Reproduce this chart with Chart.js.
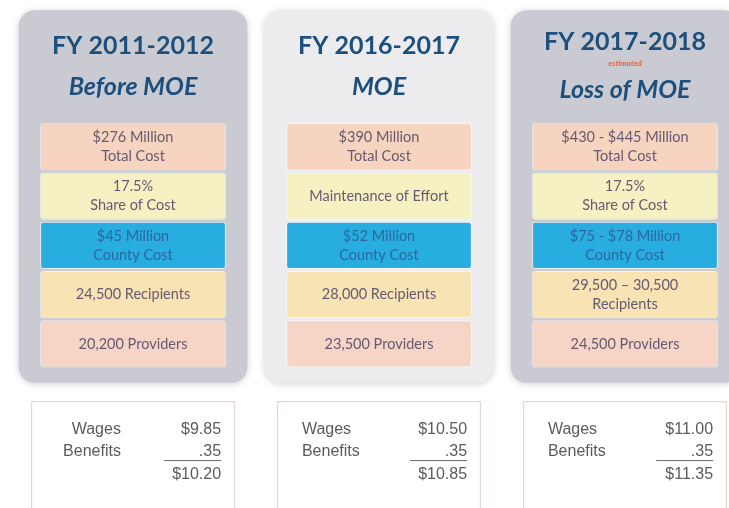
<!DOCTYPE html>
<html><head><meta charset="utf-8">
<script src="https://cdn.jsdelivr.net/npm/chart.js@4"></script>
<style>
html,body{margin:0;padding:0;background:#fff;overflow:hidden}
#wrap{position:relative;width:748px;height:508px}
</style></head>
<body><div id="wrap"><canvas id="c"></canvas></div>
<script>
// ---- data ----
const periods = ['FY 2011-2012', 'FY 2016-2017', 'FY 2017-2018'];
const phases = ['Before MOE', 'MOE', 'Loss of MOE'];
const phaseNotes = ['', '', 'estimated'];
const totalCost = [['$276 Million', 'Total Cost'], ['$390 Million', 'Total Cost'], ['$430 - $445 Million', 'Total Cost']];
const shareOfCost = [['17.5%', 'Share of Cost'], ['Maintenance of Effort'], ['17.5%', 'Share of Cost']];
const countyCost = [['$45 Million', 'County Cost'], ['$52 Million', 'County Cost'], ['$75 - $78 Million', 'County Cost']];
const recipients = [['24,500 Recipients'], ['28,000 Recipients'], ['29,500 \u2013 30,500', 'Recipients']];
const providers = [['20,200 Providers'], ['23,500 Providers'], ['24,500 Providers']];
const wages = ['$9.85', '$10.50', '$11.00'];
const benefits = ['.35', '.35', '.35'];
const hourlyTotal = ['$10.20', '$10.85', '$11.35'];

// ---- styling / layout ----
const ROWS = [totalCost, shareOfCost, countyCost, recipients, providers];
const ROW_COLORS = ['#f6d4bf', '#f6f1c3', '#28ade1', '#f8e3b5', '#f6d5c7'];
const PANEL_COLORS = ['#cacbd2', '#ececef', '#cacbd2'];
const PANEL_SPAN = [-2.27, 5.29];
const WAGE_SPAN = [5.66, 8.3];
const HEAD_COLOR = '#1d4f7d';
const TEXT_COLOR = '#665a72';
const BLUE_TEXT = '#2c679f';
const LABEL_ALIGN = ['right', 'left', 'left'];

const datasets = [];
ROWS.forEach((row, r) => {
  datasets.push({
    data: periods.map(() => [r + 0.02, r + 0.98]),
    backgroundColor: ROW_COLORS[r],
    borderColor: 'rgba(255,255,255,0.7)',
    borderWidth: 1,
    borderRadius: 3,
    borderSkipped: false,
    barPercentage: 0.755,
    categoryPercentage: 1,
    grouped: false,
    order: 1
  });
});
const WAGE_INDEX = datasets.length;
datasets.push({
  data: periods.map(() => WAGE_SPAN),
  backgroundColor: '#ffffff',
  borderColor: '#edd3ca',
  borderWidth: 1.5,
  borderSkipped: false,
  barPercentage: 0.83,
  categoryPercentage: 1,
  grouped: false,
  order: 2
});
const PANEL_INDEX = datasets.length;
datasets.push({
  data: periods.map(() => PANEL_SPAN),
  backgroundColor: PANEL_COLORS,
  borderRadius: 16,
  borderSkipped: false,
  barPercentage: 0.93,
  categoryPercentage: 1,
  grouped: false,
  order: 3
});

function box(el) {
  const top = Math.min(el.y, el.base), bottom = Math.max(el.y, el.base);
  return { left: el.x - el.width / 2, right: el.x + el.width / 2, top, bottom, cx: el.x, cy: (top + bottom) / 2 };
}

const shadowPlugin = {
  id: 'panelShadow',
  beforeDatasetDraw(chart, args) {
    if (args.index === PANEL_INDEX) {
      const ctx = chart.ctx;
      ctx.save();
      ctx.shadowColor = 'rgba(0,0,0,0.18)';
      ctx.shadowBlur = 7;
      ctx.shadowOffsetY = 1;
    }
  },
  afterDatasetDraw(chart, args) {
    if (args.index === PANEL_INDEX) chart.ctx.restore();
  }
};

const textPlugin = {
  id: 'infoText',
  afterDatasetsDraw(chart) {
    const ctx = chart.ctx;
    ctx.save();
    ctx.textAlign = 'center';
    ctx.textBaseline = 'middle';
    // headers
    chart.getDatasetMeta(PANEL_INDEX).data.forEach((el, i) => {
      const b = box(el);
      const hasNote = !!phaseNotes[i];
      ctx.fillStyle = HEAD_COLOR;
      ctx.font = 'bold 25px Lato';
      ctx.fillText(periods[i], b.cx, b.top + (hasNote ? 32 : 36));
      ctx.font = 'italic bold 25px Lato';
      ctx.fillText(phases[i], b.cx, b.top + (hasNote ? 80 : 77));
      if (hasNote) {
        ctx.fillStyle = '#e5683f';
        ctx.font = 'italic bold 8px Lato';
        ctx.fillText(phaseNotes[i], b.cx, b.top + 53);
      }
    });
    // row boxes
    ROWS.forEach((row, r) => {
      chart.getDatasetMeta(r).data.forEach((el, i) => {
        const b = box(el);
        const lines = row[i];
        ctx.fillStyle = r === 2 ? BLUE_TEXT : TEXT_COLOR;
        ctx.font = '14.5px Lato';
        const lh = 19;
        lines.forEach((t, k) => {
          ctx.fillText(t, b.cx, b.cy + (k - (lines.length - 1) / 2) * lh);
        });
      });
    });
    // wage boxes
    chart.getDatasetMeta(WAGE_INDEX).data.forEach((el, i) => {
      const b = box(el);
      ctx.fillStyle = '#5b5b5b';
      ctx.font = '16px "Liberation Sans"';
      const lx = LABEL_ALIGN[i] === 'right' ? b.left + 90 : b.left + 25;
      ctx.textAlign = LABEL_ALIGN[i];
      ctx.fillText('Wages', lx, b.top + 29);
      ctx.fillText('Benefits', lx, b.top + 51);
      ctx.textAlign = 'right';
      ctx.fillText(wages[i], b.right - 14, b.top + 29);
      ctx.fillText(benefits[i], b.right - 14, b.top + 51);
      ctx.fillText(hourlyTotal[i], b.right - 14, b.top + 74);
      ctx.strokeStyle = '#6a6a6a';
      ctx.lineWidth = 1;
      ctx.beginPath();
      ctx.moveTo(b.right - 71, b.top + 59.5);
      ctx.lineTo(b.right - 14, b.top + 59.5);
      ctx.stroke();
    });
    ctx.restore();
  }
};

new Chart(document.getElementById('c'), {
  type: 'bar',
  data: { labels: periods, datasets },
  options: {
    responsive: true,
    maintainAspectRatio: false,
    animation: false,
    layout: { padding: { left: 10, right: 0, top: 0, bottom: 0 } },
    plugins: { legend: { display: false }, tooltip: { enabled: false } },
    scales: {
      x: { display: false, offset: true, grid: { display: false } },
      y: { display: false, reverse: true, min: -2.48, max: 7.83, grid: { display: false } }
    }
  },
  plugins: [shadowPlugin, textPlugin]
});
</script>
</body></html>
